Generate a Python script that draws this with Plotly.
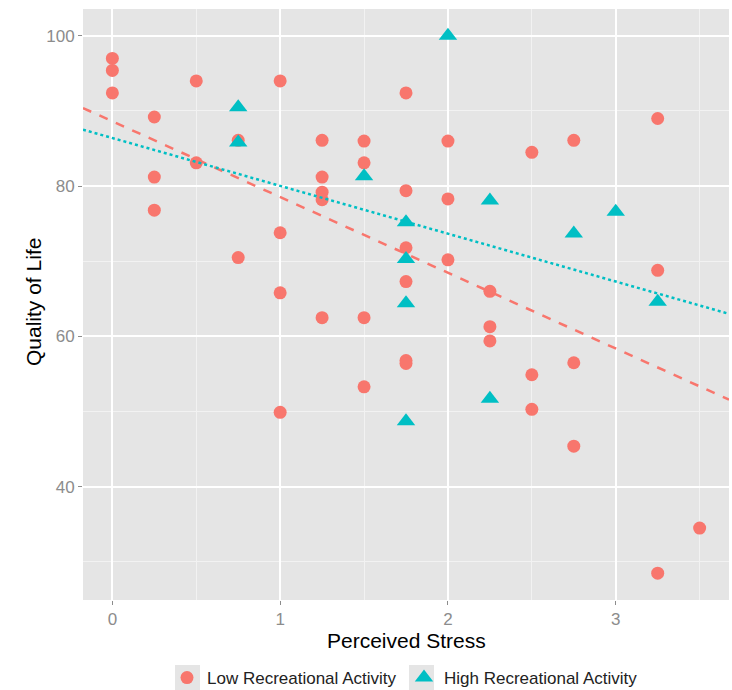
import numpy as np
import plotly.graph_objects as go

# Low Recreational Activity
low_x = [0, 0, 0, 0.25, 0.25, 0.25, 0.5, 0.5, 0.75, 0.75, 1, 1, 1, 1,
         1.25, 1.25, 1.25, 1.25, 1.25, 1.5, 1.5, 1.5, 1.5,
         1.75, 1.75, 1.75, 1.75, 1.75, 1.75, 2, 2, 2, 2.25, 2.25, 2.25,
         2.5, 2.5, 2.5, 2.75, 2.75, 2.75, 3.25, 3.25, 3.25, 3.5]
low_y = [97.0, 95.4, 92.4, 89.2, 81.2, 76.8, 94.0, 83.1, 86.1, 70.5, 94.0, 73.8, 65.8, 49.9,
         86.1, 81.2, 79.2, 78.2, 62.5, 86.0, 83.1, 62.5, 53.3,
         92.4, 79.4, 71.8, 67.3, 56.8, 56.4, 86.0, 78.3, 70.2, 66.0, 61.3, 59.4,
         84.5, 54.9, 50.3, 86.1, 56.5, 45.4, 89.0, 68.8, 28.5, 34.5]

# High Recreational Activity
high_x = [0.75, 0.75, 1.5, 1.75, 1.75, 1.75, 1.75, 2, 2.25, 2.25, 2.75, 3, 3.25]
high_y = [90.5, 85.8, 81.3, 75.2, 70.3, 64.4, 48.7, 100.0, 78.1, 51.7, 73.7, 76.6, 64.6]

x_ticks = [0, 1, 2, 3]
y_ticks = [40, 60, 80, 100]

RED = "#F8766D"
TEAL = "#00BFC4"

xr = [-0.175, 3.675]
yr = [24.93, 103.57]

W, H = 732, 690
L, R, T, B = 83, 3, 9, 90
PW, PH = W - L - R, H - T - B


def px_to_paper_x(px):
    return (px - L) / PW


def px_to_paper_y(py):
    return (H - B - py) / PH


def fit_line(xs, ys):
    b, a = np.polyfit(np.array(xs, float), np.array(ys, float), 1)
    xx = np.array(xr)
    return xx, a + b * xx


lx, ly = fit_line(low_x, low_y)
hx, hy = fit_line(high_x, high_y)

fig = go.Figure()
fig.add_trace(go.Scatter(x=low_x, y=low_y, mode="markers", name="Low Recreational Activity",
                         marker=dict(symbol="circle", size=13, color=RED), legendgroup="low"))
fig.add_trace(go.Scatter(x=high_x, y=high_y, mode="markers", name="High Recreational Activity",
                         marker=dict(symbol="triangle-up", size=16, color=TEAL), legendgroup="high"))
fig.add_trace(go.Scatter(x=lx, y=ly, mode="lines", showlegend=False, legendgroup="low",
                         line=dict(color=RED, width=2.5, dash="dash")))
fig.add_trace(go.Scatter(x=hx, y=hy, mode="lines", showlegend=False, legendgroup="high",
                         line=dict(color=TEAL, width=2.5, dash="dot")))

FONT = "Liberation Sans, Arial, sans-serif"
axis_common = dict(
    showgrid=True, gridcolor="white", gridwidth=1.6,
    zeroline=False, showline=False,
    ticks="outside", ticklen=4, tickwidth=1, tickcolor="#8C8C8C",
    tickfont=dict(family=FONT, size=17, color="#8C8C8C"),
)

# legend key backgrounds (ggplot style)
shapes = []
for cx in [187.5, 421.5]:
    shapes.append(dict(type="rect", xref="paper", yref="paper", layer="below",
                       x0=px_to_paper_x(cx - 12.5), x1=px_to_paper_x(cx + 12.5),
                       y0=px_to_paper_y(665), y1=px_to_paper_y(690),
                       fillcolor="#E5E5E5", line=dict(width=0)))

annotations = [
    dict(text="Perceived Stress", xref="paper", yref="paper", x=0.5, y=px_to_paper_y(640),
         xanchor="center", yanchor="middle", showarrow=False,
         font=dict(family=FONT, size=21, color="black")),
    dict(text="Quality of Life", xref="paper", yref="paper", x=px_to_paper_x(33),
         y=px_to_paper_y(302), xanchor="center", yanchor="middle", textangle=-90,
         showarrow=False, font=dict(family=FONT, size=21, color="black")),
]

fig.update_layout(
    width=W, height=H,
    margin=dict(l=L, r=R, t=T, b=B, autoexpand=False),
    paper_bgcolor="white",
    plot_bgcolor="#E5E5E5",
    font=dict(family=FONT, color="black"),
    showlegend=True,
    legend=dict(orientation="h", x=px_to_paper_x(167), xanchor="left", y=px_to_paper_y(678),
                yanchor="middle", font=dict(family=FONT, size=17, color="#222222"),
                entrywidth=192, entrywidthmode="pixels",
                bgcolor="rgba(0,0,0,0)"),
    xaxis=dict(axis_common, range=xr, tickvals=x_ticks,
               minor=dict(showgrid=True, gridcolor="#F2F2F2", gridwidth=0.8, dtick=0.5, tick0=0)),
    yaxis=dict(axis_common, range=yr, tickvals=y_ticks,
               minor=dict(showgrid=True, gridcolor="#F2F2F2", gridwidth=0.8, dtick=10, tick0=0)),
    shapes=shapes,
    annotations=annotations,
)

fig.write_html("out.html", config={"displayModeBar": False},
               post_script="document.body.style.margin='0';document.body.style.overflow='hidden';")
